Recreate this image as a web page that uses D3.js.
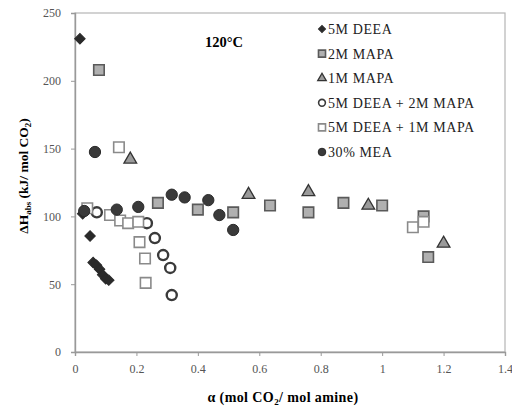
<!DOCTYPE html>
<html>
<head>
<meta charset="utf-8">
<script src="https://cdn.jsdelivr.net/npm/d3@7"></script>
<style>
  body { margin: 0; background: #fff; }
  svg { display: block; font-family: "Liberation Serif", "DejaVu Serif", serif; }
</style>
</head>
<body>
<div id="chart"></div>
<script>
/* Heat of absorption vs CO2 loading at 120 C, one array per solvent. */

var xTicks = [0, 0.2, 0.4, 0.6, 0.8, 1, 1.2, 1.4],
  yTicks = [0, 50, 100, 150, 200, 250];

// [loading, dH]
var deea5 = [[0.016, 231], [0.049, 85.5], [0.059, 66], [0.07, 64], [0.08, 61],
  [0.09, 57], [0.1, 54], [0.11, 53], [0.025, 102]];
var mapa2 = [[0.078, 208], [0.27, 110], [0.4, 105], [0.515, 103], [0.635, 108],
  [0.76, 103], [0.874, 110], [1.0, 108], [1.135, 100], [1.15, 70]];
var mapa1 = [[0.18, 142], [0.565, 116], [0.76, 118], [0.955, 108], [1.2, 80]];
var deea5mapa2 = [[0.071, 103], [0.234, 95], [0.26, 84], [0.287, 71.5], [0.31, 62], [0.315, 42]];
var deea5mapa1 = [[0.143, 151], [0.04, 106], [0.114, 101], [0.147, 97], [0.173, 95],
  [0.206, 96], [0.21, 81], [0.228, 69], [0.23, 51], [1.1, 92], [1.135, 96]];
var mea30 = [[0.065, 147.5], [0.03, 104], [0.136, 105], [0.206, 107], [0.315, 116],
  [0.357, 114], [0.434, 112], [0.47, 101], [0.515, 90]];

var seriesNames = ["5M DEEA", "2M MAPA", "1M MAPA", "5M DEEA + 2M MAPA", "5M DEEA + 1M MAPA", "30% MEA"];

var width = 512,
  height = 408,
  margin = {top: 13, right: 7, bottom: 56, left: 75};

var styles = [
  {data: deea5, type: d3.symbolSquare, rot: 45, size: 55, fill: "#2a2a2a", stroke: "#2a2a2a", sw: 1},
  {data: mapa2, type: d3.symbolSquare, rot: 0, size: 110, fill: "#b0b0b0", stroke: "#5a5a5a", sw: 1.6},
  {data: mapa1, type: d3.symbolTriangle, rot: 0, size: 70, fill: "#9a9a9a", stroke: "#333", sw: 1.3},
  {data: deea5mapa2, type: d3.symbolCircle, rot: 0, size: 80, fill: "none", stroke: "#3a3a3a", sw: 2.4},
  {data: deea5mapa1, type: d3.symbolSquare, rot: 0, size: 110, fill: "#fff", stroke: "#8a8a8a", sw: 1.6},
  {data: mea30, type: d3.symbolCircle, rot: 0, size: 100, fill: "#3a3a3a", stroke: "#2a2a2a", sw: 1}
];

var svg = d3.select("#chart").append("svg")
  .attr("width", width)
  .attr("height", height);

var x = d3.scaleLinear().domain([0, 1.4]).range([margin.left, width - margin.right]),
  y = d3.scaleLinear().domain([0, 250]).range([height - margin.bottom, margin.top]);

// Plot frame
svg.append("rect")
  .attr("x", x(0)).attr("y", y(250))
  .attr("width", x(1.4) - x(0)).attr("height", y(0) - y(250))
  .attr("fill", "none").attr("stroke", "#b5b5b5").attr("stroke-width", 1.2);

// Axes
var xAxis = svg.append("g")
  .attr("transform", "translate(0," + y(0) + ")")
  .call(d3.axisBottom(x).tickValues(xTicks).tickSize(4).tickPadding(8)
    .tickFormat(function (d) { return d3.format("~g")(d); }));

var yAxis = svg.append("g")
  .attr("transform", "translate(" + x(0) + ",0)")
  .call(d3.axisLeft(y).tickValues(yTicks).tickSize(4).tickPadding(10));

[xAxis, yAxis].forEach(function (g) {
  g.select(".domain").attr("stroke", "#999").attr("stroke-width", 1.4);
  g.selectAll(".tick line").attr("stroke", "#999");
  g.selectAll(".tick text")
    .attr("fill", "#555")
    .style("font-size", "12px")
    .style("font-family", "Liberation Serif");
});

// Points
styles.forEach(function (s) {
  svg.append("g").selectAll("path")
    .data(s.data)
    .enter().append("path")
    .attr("transform", function (d) {
      return "translate(" + x(d[0]) + "," + y(d[1]) + ") rotate(" + s.rot + ")";
    })
    .attr("d", d3.symbol().type(s.type).size(s.size))
    .attr("fill", s.fill)
    .attr("stroke", s.stroke)
    .attr("stroke-width", s.sw);
});

// Title
svg.append("text")
  .attr("x", 224).attr("y", 47)
  .attr("text-anchor", "middle")
  .style("font-size", "14.5px").style("font-weight", "bold")
  .text("120°C");

// Legend
var legend = svg.append("g").attr("class", "legend");
styles.forEach(function (s, i) {
  var ly = 29 + i * 24.6;
  legend.append("path")
    .attr("transform", "translate(322," + ly + ") rotate(" + s.rot + ")")
    .attr("d", d3.symbol().type(s.type).size(s.size * 0.45))
    .attr("fill", s.fill)
    .attr("stroke", s.stroke)
    .attr("stroke-width", Math.min(s.sw, 1.6));
  legend.append("text")
    .attr("x", 328).attr("y", ly + 5)
    .style("font-size", "14px")
    .style("letter-spacing", "0.6px")
    .attr("fill", "#222")
    .text(seriesNames[i]);
});

// Axis titles
var xt = svg.append("text")
  .attr("x", 283).attr("y", 402)
  .attr("text-anchor", "middle")
  .style("font-size", "14px").style("font-weight", "bold")
  .style("letter-spacing", "0.4px");
xt.append("tspan").text("α (mol CO");
xt.append("tspan").attr("dy", 3).style("font-size", "9px").text("2");
xt.append("tspan").attr("dy", -3).text("/ mol amine)");

var yt = svg.append("text")
  .attr("transform", "translate(28,176) rotate(-90)")
  .attr("text-anchor", "middle")
  .style("font-size", "13.5px").style("font-weight", "bold");
yt.append("tspan").text("ΔH");
yt.append("tspan").attr("dy", 3).style("font-size", "9px").text("abs");
yt.append("tspan").attr("dy", -3).text(" (kJ/ mol CO");
yt.append("tspan").attr("dy", 3).style("font-size", "9px").text("2");
yt.append("tspan").attr("dy", -3).text(")");
</script>
</body>
</html>
